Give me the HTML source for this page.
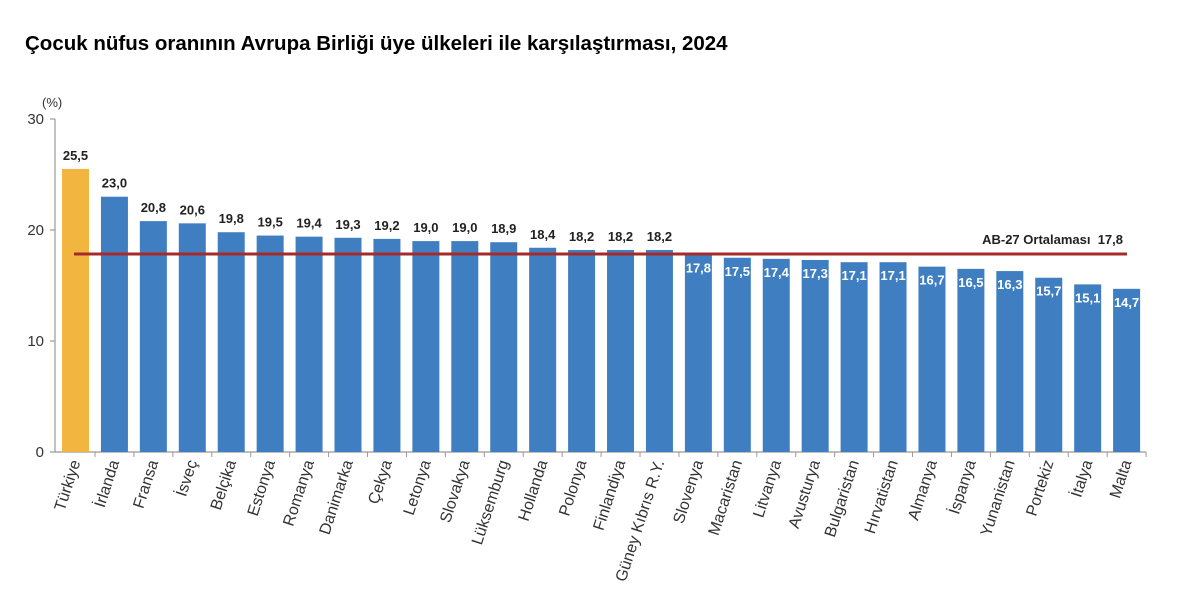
<!DOCTYPE html>
<html><head><meta charset="utf-8"><style>body{margin:0;background:#fff}svg{display:block}.b{fill:#3f7fc1}.v{font-size:13px;font-weight:bold;text-anchor:middle;fill:#222}.w{font-size:13px;font-weight:bold;text-anchor:middle;fill:#fff}.l{font-size:16px;text-anchor:end;fill:#333}.t{stroke:#999}</style></head><body>
<svg width="1200" height="606" xmlns="http://www.w3.org/2000/svg" font-family="Liberation Sans, Arial, sans-serif">
<text x="25" y="50" font-size="20.5" font-weight="bold" fill="#000">Çocuk nüfus oranının Avrupa Birliği üye ülkeleri ile karşılaştırması, 2024</text>
<text x="42" y="107" font-size="13" fill="#333">(%)</text>
<g font-size="15" fill="#333" text-anchor="end">
<text x="44" y="124">30</text><text x="44" y="235">20</text><text x="44" y="346">10</text><text x="44" y="457">0</text>
</g>
<g stroke="#999" stroke-width="1.2">
<line x1="55" y1="119" x2="55" y2="452"/><line x1="50" y1="119" x2="55" y2="119"/><line x1="50" y1="230" x2="55" y2="230"/><line x1="50" y1="341" x2="55" y2="341"/><line x1="50" y1="452" x2="55" y2="452"/>
<line x1="55" y1="452" x2="1146" y2="452"/>
</g>

<g transform="translate(75.5,0)"><rect x="-13.5" y="168.95" width="27" height="283.05" fill="#f2b640"/><text class="v" y="159.95">25,5</text><line class="t" x1="19.5" y1="452" x2="19.5" y2="457"/><text class="l" transform="translate(5,462) rotate(-72)">Türkiye</text></g>
<g transform="translate(114.43,0)"><rect class="b" x="-13.5" y="196.7" width="27" height="255.3"/><text class="v" y="187.7">23,0</text><line class="t" x1="19.5" y1="452" x2="19.5" y2="457"/><text class="l" transform="translate(5,462) rotate(-72)">İrlanda</text></g>
<g transform="translate(153.36,0)"><rect class="b" x="-13.5" y="221.12" width="27" height="230.88"/><text class="v" y="212.12">20,8</text><line class="t" x1="19.5" y1="452" x2="19.5" y2="457"/><text class="l" transform="translate(5,462) rotate(-72)">Fransa</text></g>
<g transform="translate(192.29,0)"><rect class="b" x="-13.5" y="223.34" width="27" height="228.66"/><text class="v" y="214.34">20,6</text><line class="t" x1="19.5" y1="452" x2="19.5" y2="457"/><text class="l" transform="translate(5,462) rotate(-72)">İsveç</text></g>
<g transform="translate(231.22,0)"><rect class="b" x="-13.5" y="232.22" width="27" height="219.78"/><text class="v" y="223.22">19,8</text><line class="t" x1="19.5" y1="452" x2="19.5" y2="457"/><text class="l" transform="translate(5,462) rotate(-72)">Belçika</text></g>
<g transform="translate(270.15,0)"><rect class="b" x="-13.5" y="235.55" width="27" height="216.45"/><text class="v" y="226.55">19,5</text><line class="t" x1="19.5" y1="452" x2="19.5" y2="457"/><text class="l" transform="translate(5,462) rotate(-72)">Estonya</text></g>
<g transform="translate(309.08,0)"><rect class="b" x="-13.5" y="236.66" width="27" height="215.34"/><text class="v" y="227.66">19,4</text><line class="t" x1="19.5" y1="452" x2="19.5" y2="457"/><text class="l" transform="translate(5,462) rotate(-72)">Romanya</text></g>
<g transform="translate(348.01,0)"><rect class="b" x="-13.5" y="237.77" width="27" height="214.23"/><text class="v" y="228.77">19,3</text><line class="t" x1="19.5" y1="452" x2="19.5" y2="457"/><text class="l" transform="translate(5,462) rotate(-72)">Danimarka</text></g>
<g transform="translate(386.94,0)"><rect class="b" x="-13.5" y="238.88" width="27" height="213.12"/><text class="v" y="229.88">19,2</text><line class="t" x1="19.5" y1="452" x2="19.5" y2="457"/><text class="l" transform="translate(5,462) rotate(-72)">Çekya</text></g>
<g transform="translate(425.87,0)"><rect class="b" x="-13.5" y="241.1" width="27" height="210.9"/><text class="v" y="232.1">19,0</text><line class="t" x1="19.5" y1="452" x2="19.5" y2="457"/><text class="l" transform="translate(5,462) rotate(-72)">Letonya</text></g>
<g transform="translate(464.8,0)"><rect class="b" x="-13.5" y="241.1" width="27" height="210.9"/><text class="v" y="232.1">19,0</text><line class="t" x1="19.5" y1="452" x2="19.5" y2="457"/><text class="l" transform="translate(5,462) rotate(-72)">Slovakya</text></g>
<g transform="translate(503.73,0)"><rect class="b" x="-13.5" y="242.21" width="27" height="209.79"/><text class="v" y="233.21">18,9</text><line class="t" x1="19.5" y1="452" x2="19.5" y2="457"/><text class="l" transform="translate(5,462) rotate(-72)">Lüksemburg</text></g>
<g transform="translate(542.66,0)"><rect class="b" x="-13.5" y="247.76" width="27" height="204.24"/><text class="v" y="238.76">18,4</text><line class="t" x1="19.5" y1="452" x2="19.5" y2="457"/><text class="l" transform="translate(5,462) rotate(-72)">Hollanda</text></g>
<g transform="translate(581.59,0)"><rect class="b" x="-13.5" y="249.98" width="27" height="202.02"/><text class="v" y="240.98">18,2</text><line class="t" x1="19.5" y1="452" x2="19.5" y2="457"/><text class="l" transform="translate(5,462) rotate(-72)">Polonya</text></g>
<g transform="translate(620.52,0)"><rect class="b" x="-13.5" y="249.98" width="27" height="202.02"/><text class="v" y="240.98">18,2</text><line class="t" x1="19.5" y1="452" x2="19.5" y2="457"/><text class="l" transform="translate(5,462) rotate(-72)">Finlandiya</text></g>
<g transform="translate(659.45,0)"><rect class="b" x="-13.5" y="249.98" width="27" height="202.02"/><text class="v" y="240.98">18,2</text><line class="t" x1="19.5" y1="452" x2="19.5" y2="457"/><text class="l" transform="translate(5,462) rotate(-72)">Güney Kıbrıs R.Y.</text></g>
<g transform="translate(698.38,0)"><rect class="b" x="-13.5" y="254.42" width="27" height="197.58"/><text class="w" y="272.42">17,8</text><line class="t" x1="19.5" y1="452" x2="19.5" y2="457"/><text class="l" transform="translate(5,462) rotate(-72)">Slovenya</text></g>
<g transform="translate(737.31,0)"><rect class="b" x="-13.5" y="257.75" width="27" height="194.25"/><text class="w" y="275.75">17,5</text><line class="t" x1="19.5" y1="452" x2="19.5" y2="457"/><text class="l" transform="translate(5,462) rotate(-72)">Macaristan</text></g>
<g transform="translate(776.24,0)"><rect class="b" x="-13.5" y="258.86" width="27" height="193.14"/><text class="w" y="276.86">17,4</text><line class="t" x1="19.5" y1="452" x2="19.5" y2="457"/><text class="l" transform="translate(5,462) rotate(-72)">Litvanya</text></g>
<g transform="translate(815.17,0)"><rect class="b" x="-13.5" y="259.97" width="27" height="192.03"/><text class="w" y="277.97">17,3</text><line class="t" x1="19.5" y1="452" x2="19.5" y2="457"/><text class="l" transform="translate(5,462) rotate(-72)">Avusturya</text></g>
<g transform="translate(854.1,0)"><rect class="b" x="-13.5" y="262.19" width="27" height="189.81"/><text class="w" y="280.19">17,1</text><line class="t" x1="19.5" y1="452" x2="19.5" y2="457"/><text class="l" transform="translate(5,462) rotate(-72)">Bulgaristan</text></g>
<g transform="translate(893.03,0)"><rect class="b" x="-13.5" y="262.19" width="27" height="189.81"/><text class="w" y="280.19">17,1</text><line class="t" x1="19.5" y1="452" x2="19.5" y2="457"/><text class="l" transform="translate(5,462) rotate(-72)">Hırvatistan</text></g>
<g transform="translate(931.96,0)"><rect class="b" x="-13.5" y="266.63" width="27" height="185.37"/><text class="w" y="284.63">16,7</text><line class="t" x1="19.5" y1="452" x2="19.5" y2="457"/><text class="l" transform="translate(5,462) rotate(-72)">Almanya</text></g>
<g transform="translate(970.89,0)"><rect class="b" x="-13.5" y="268.85" width="27" height="183.15"/><text class="w" y="286.85">16,5</text><line class="t" x1="19.5" y1="452" x2="19.5" y2="457"/><text class="l" transform="translate(5,462) rotate(-72)">İspanya</text></g>
<g transform="translate(1009.82,0)"><rect class="b" x="-13.5" y="271.07" width="27" height="180.93"/><text class="w" y="289.07">16,3</text><line class="t" x1="19.5" y1="452" x2="19.5" y2="457"/><text class="l" transform="translate(5,462) rotate(-72)">Yunanistan</text></g>
<g transform="translate(1048.75,0)"><rect class="b" x="-13.5" y="277.73" width="27" height="174.27"/><text class="w" y="295.73">15,7</text><line class="t" x1="19.5" y1="452" x2="19.5" y2="457"/><text class="l" transform="translate(5,462) rotate(-72)">Portekiz</text></g>
<g transform="translate(1087.68,0)"><rect class="b" x="-13.5" y="284.39" width="27" height="167.61"/><text class="w" y="302.39">15,1</text><line class="t" x1="19.5" y1="452" x2="19.5" y2="457"/><text class="l" transform="translate(5,462) rotate(-72)">İtalya</text></g>
<g transform="translate(1126.61,0)"><rect class="b" x="-13.5" y="288.83" width="27" height="163.17"/><text class="w" y="306.83">14,7</text><line class="t" x1="19.5" y1="452" x2="19.5" y2="457"/><text class="l" transform="translate(5,462) rotate(-72)">Malta</text></g>

<line x1="74" y1="254" x2="1127" y2="254" stroke="#a52a2a" stroke-width="3"/>
<text x="1123" y="244" font-size="13" font-weight="bold" text-anchor="end" fill="#222" xml:space="preserve">AB-27 Ortalaması  17,8</text>
</svg>
</body></html>
